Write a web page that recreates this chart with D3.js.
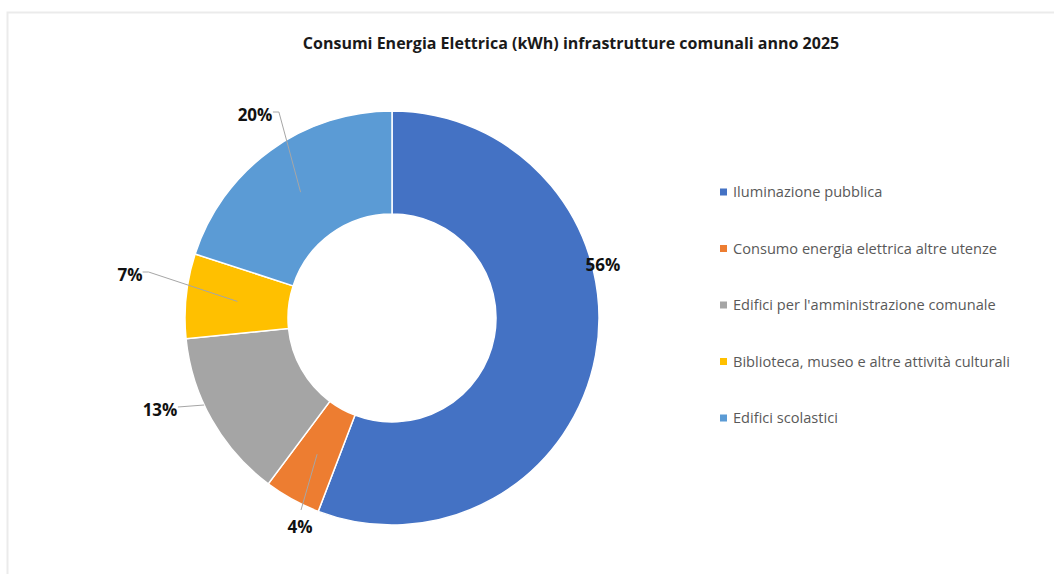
<!DOCTYPE html>
<html>
<head>
<meta charset="utf-8">
<script src="https://cdn.jsdelivr.net/npm/d3@7"></script>
<style>
  html, body { margin: 0; padding: 0; background: #fff; }
  svg { display: block; }
</style>
</head>
<body>
<svg id="chart" width="1054" height="574"></svg>
<script>
// ---- data ----
const title = "Consumi Energia Elettrica (kWh) infrastrutture comunali anno 2025";
const categories = [
  "Iluminazione pubblica",
  "Consumo energia elettrica altre utenze",
  "Edifici per l'amministrazione comunale",
  "Biblioteca, museo e altre attività culturali",
  "Edifici scolastici"
];
const shares = [55.8, 4.4, 13.2, 6.6, 20.0];
const percentLabels = ["56%", "4%", "13%", "7%", "20%"];
const colors = ["#4472C4", "#ED7D31", "#A5A5A5", "#FFC000", "#5B9BD5"];

// ---- layout (not data) ----
const W = 1054, H = 574;
const cx = 392, cy = 318, outerR = 207, innerR = 104;
// label offsets from centre (Excel best-fit placement)
const labelOffsets = [[211, -53], [-92, 209], [-232, 92], [-262, -43], [-137, -203]];
// leader target: "none", "centroid", or "edge" (horizontal to outer edge)
const leaderMode = ["none", "centroid", "edge", "centroid", "centroid"];

const svg = d3.select("#chart");

// chart area border (light grey)
svg.append("path")
  .attr("d", `M7.5,${H} L7.5,12.5 L${W},12.5`)
  .attr("fill", "none").attr("stroke", "#ebebeb").attr("stroke-width", 2);

// title
svg.append("text")
  .attr("x", 571).attr("y", 49)
  .attr("text-anchor", "middle")
  .attr("font-family", "'Open Sans', sans-serif")
  .attr("font-weight", "bold")
  .attr("font-size", 16)
  .attr("fill", "#1a1a1a")
  .text(title);

const pie = d3.pie().sort(null).value(d => d);
const arcs = pie(shares);
const arc = d3.arc().innerRadius(innerR).outerRadius(outerR);
const centroidR = (innerR + outerR) / 2;

const g = svg.append("g").attr("transform", `translate(${cx},${cy})`);

g.selectAll("path.slice")
  .data(arcs)
  .enter().append("path")
  .attr("class", "slice")
  .attr("d", arc)
  .attr("fill", (d, i) => colors[i])
  .attr("stroke", "#fff")
  .attr("stroke-width", 1.5);

// leader lines and labels
const fontSize = 17;
arcs.forEach((d, i) => {
  const [lx, ly] = labelOffsets[i];
  const mid = (d.startAngle + d.endAngle) / 2;
  const mode = leaderMode[i];
  if (mode !== "none") {
    let sx, sy, pts;
    if (ly > 150) { // label below ring
      sx = lx + 1; sy = ly - 17;
      pts = [[sx, sy], [Math.sin(mid) * centroidR, -Math.cos(mid) * centroidR]];
    } else {
      const halfW = percentLabels[i].length * 5.3;
      sx = lx + halfW + 2; sy = ly - 3;
      if (mode === "edge") {
        const ey = sy - 2;
        const ex = -Math.sqrt(outerR * outerR - ey * ey);
        pts = [[sx, sy], [ex, ey]];
      } else {
        pts = [[sx, sy], [sx + 6, sy], [Math.sin(mid) * centroidR, -Math.cos(mid) * centroidR]];
      }
    }
    g.append("path")
      .attr("d", d3.line()(pts))
      .attr("fill", "none")
      .attr("stroke", "#a6a6a6")
      .attr("stroke-width", 1);
  }
  g.append("text")
    .attr("x", lx).attr("y", ly + 6)
    .attr("text-anchor", "middle")
    .attr("font-family", "'Open Sans', sans-serif")
    .attr("font-weight", "bold")
    .attr("font-size", fontSize)
    .attr("fill", "#111")
    .text(percentLabels[i]);
});

// legend
const legendY = d3.scalePoint().domain(categories).range([192, 418]);
const lg = svg.append("g");
categories.forEach((c, i) => {
  const y = legendY(c);
  lg.append("rect")
    .attr("x", 720).attr("y", y - 3.5)
    .attr("width", 7).attr("height", 7)
    .attr("fill", colors[i]);
  lg.append("text")
    .attr("x", 733).attr("y", y + 5)
    .attr("font-family", "'Open Sans', sans-serif")
    .attr("font-size", 14.6)
    .attr("fill", "#595959")
    .text(c);
});
</script>
</body>
</html>
